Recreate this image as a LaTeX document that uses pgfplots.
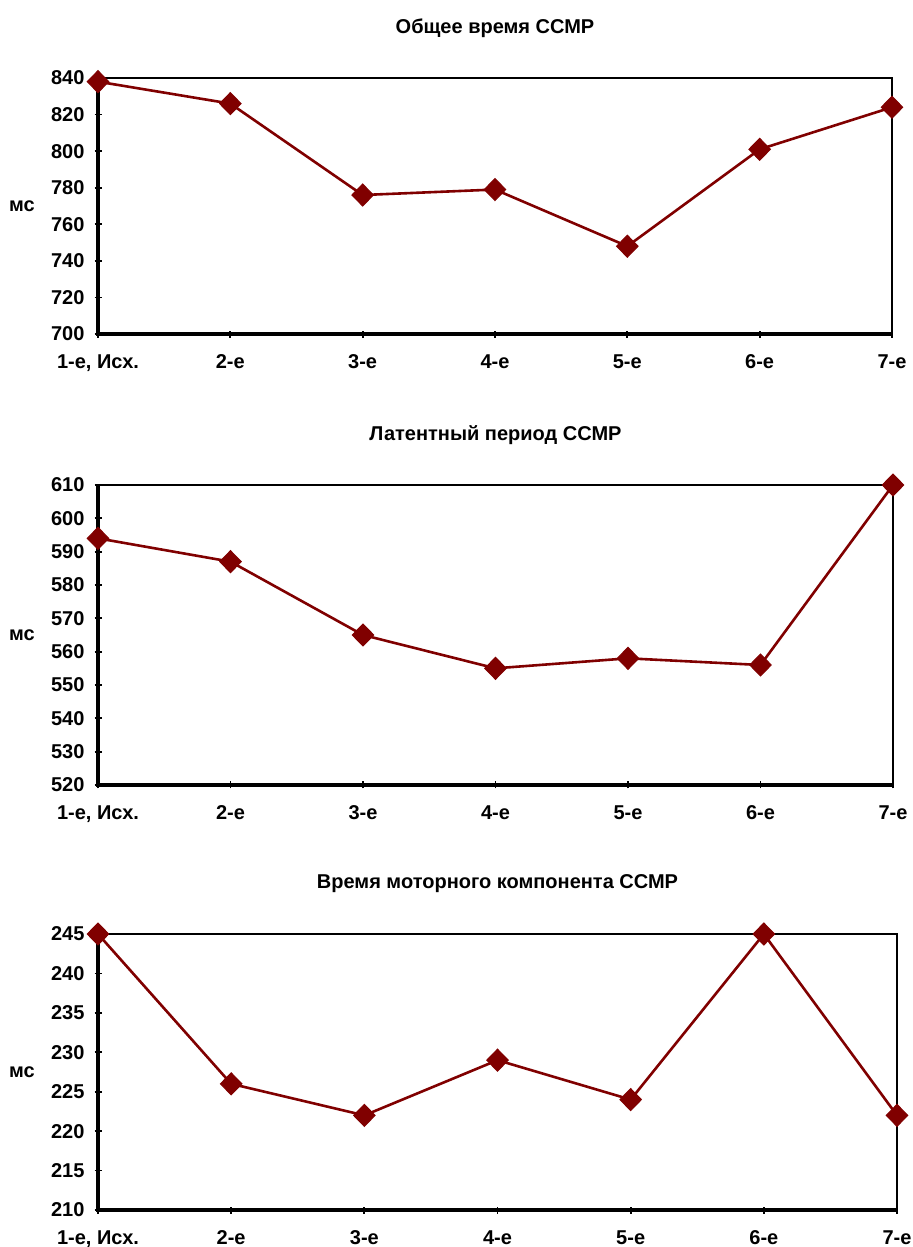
\documentclass[border=0pt]{standalone}
\usepackage{fontspec}
\setmainfont{Liberation Sans}
\usepackage{pgfplots}
\pgfplotsset{compat=1.18}
\definecolor{dred}{HTML}{800000}
\pgfplotsset{
  myax/.style={
    scale only axis,
    anchor=north west,
    xmin=0, xmax=6,
    xtick={0,...,6},
    xticklabels={1-е{,} Исх.,2-е,3-е,4-е,5-е,6-е,7-е},
    xtick pos=bottom, ytick pos=left,
    tick align=center,
    major tick length=3.5pt,
    axis line style={line width=1.2pt},
    every tick/.style={black, line width=0.9pt},
    /pgf/number format/assume math mode=true,
    tick label style={font=\fontsize{10}{12}\selectfont\bfseries},
    yticklabel style={xshift=-1.5pt},
    xticklabel style={yshift=-5pt},
    title style={font=\fontsize{10}{12}\selectfont\bfseries, at={(0.5,1)}, anchor=center, yshift=19pt},
    ylabel={мс},
    ylabel style={font=\fontsize{10}{12}\selectfont\bfseries, rotate=-90, at={(axis description cs:0,0.5)}, anchor=center, xshift=-38pt},
    clip=false,
    execute at end axis={
      \draw[line width=1.6pt] (rel axis cs:0,1) -- (rel axis cs:0,0) -- (rel axis cs:1,0);
    },
  },
  myplot/.style={color=dred, line width=1.3pt, mark=diamond*, mark size=5.5pt, mark options={fill=dred, xscale=1.3, line width=0.5pt}},
}
\begin{document}
\begin{tikzpicture}
\useasboundingbox (0,0) rectangle (456.5pt,-623.5pt);
\begin{axis}[myax, at={(49pt,-39pt)}, width=397pt, height=128pt,
  ymin=700, ymax=840, ytick={700,720,...,840},
  title={Общее время ССМР}]
\addplot[myplot] coordinates {(0,838) (1,826) (2,776) (3,779) (4,748) (5,801) (6,824)};
\end{axis}
\begin{axis}[myax, at={(49pt,-242.5pt)}, width=397.5pt, height=150pt,
  ymin=520, ymax=610, ytick={520,530,...,610},
  title={Латентный период ССМР}]
\addplot[myplot] coordinates {(0,594) (1,587) (2,565) (3,555) (4,558) (5,556) (6,610)};
\end{axis}
\begin{axis}[myax, at={(49pt,-467pt)}, width=399.5pt, height=138pt,
  ymin=210, ymax=245, ytick={210,215,...,245},
  title={Время моторного компонента ССМР}]
\addplot[myplot] coordinates {(0,245) (1,226) (2,222) (3,229) (4,224) (5,245) (6,222)};
\end{axis}
\end{tikzpicture}
\end{document}
